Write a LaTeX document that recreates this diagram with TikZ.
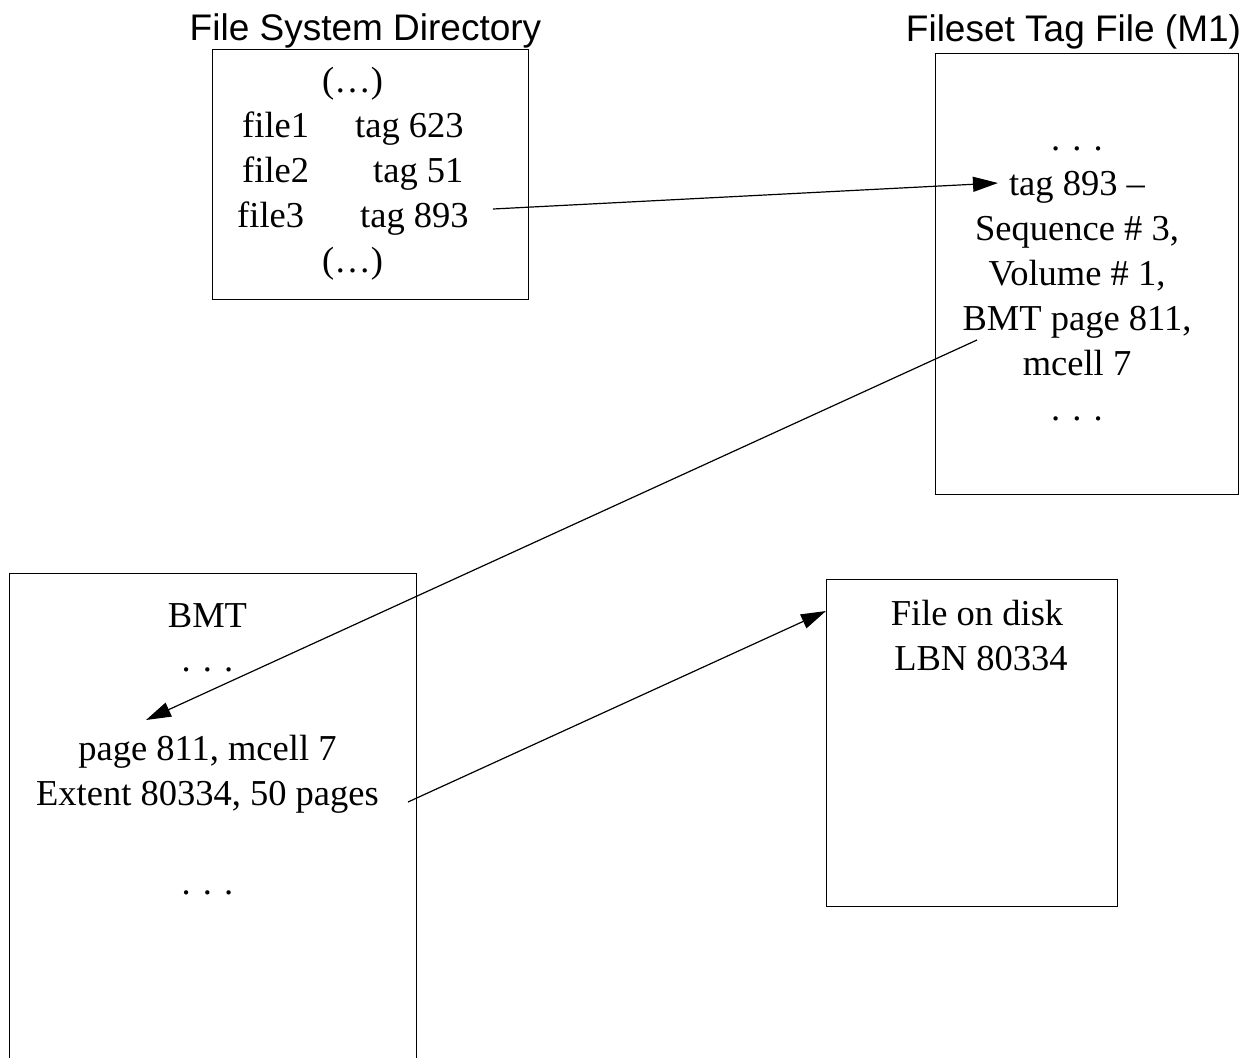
\documentclass[tikz,border=0pt]{standalone}
\usepackage{fontspec}
\setmainfont{Liberation Serif}
\newfontfamily\titlefont{Liberation Sans}
\usetikzlibrary{arrows.meta}
\begin{document}
\begin{tikzpicture}[x=1pt,y=-1pt,
  panel/.style={draw,line width=1.3pt,inner sep=0,anchor=north west},
  txt/.style={font=\fontsize{36.5}{45}\selectfont,inner sep=0,anchor=base},
  txtl/.style={txt,anchor=base west},
  ttl/.style={font=\titlefont\fontsize{37}{44}\selectfont,inner sep=0,anchor=base},
  link/.style={line width=1.2pt,-{Triangle[length=25pt,width=15pt]}}]
\clip (0,0) rectangle (1251,1058);
\fill[white] (0,0) rectangle (1251,1058);

% panels
\node[panel,minimum width=316pt,minimum height=250pt] (fsd) at (211.5,48.5) {};
\node[panel,minimum width=302.5pt,minimum height=441pt] (tagf) at (935,53) {};
\node[panel,minimum width=407pt,minimum height=540pt] (bmt) at (8.5,573) {};
\node[panel,minimum width=291pt,minimum height=327pt] (disk) at (826,579) {};

% titles
\node[ttl] (fsdtitle) at (365.5,40) {File System Directory};
\node[ttl] (tagtitle) at (1073.5,41) {Fileset Tag File (M1)};

% directory entries
\node[txt] (d0) at (352.5,92) {(…)};
\node[txtl] (f1) at (242,137) {file1};
\node[txtl] (t1) at (355,137) {tag 623};
\node[txtl] (f2) at (242,182) {file2};
\node[txtl] (t2) at (373,182) {tag 51};
\node[txtl] (f3) at (237,227) {file3};
\node[txtl] (t3) at (360,227) {tag 893};
\node[txt] (d1) at (352.5,272) {(…)};

% tag file entries
\node[txt] (g0) at (1077,150) {. . .};
\node[txt] (g1) at (1077,195) {tag 893 –};
\node[txt] (g2) at (1077,240) {Sequence \# 3,};
\node[txt] (g3) at (1077,285) {Volume \# 1,};
\node[txt] (g4) at (1077,330) {BMT page 811,};
\node[txt] (g5) at (1077,375) {mcell 7};
\node[txt] (g6) at (1077,420) {. . .};

% BMT entries
\node[txt] (b0) at (207.5,627) {BMT};
\node[txt] (b1) at (207.5,671) {. . .};
\node[txt] (b2) at (207.5,760) {page 811, mcell 7};
\node[txt] (b3) at (207.5,805) {Extent 80334, 50 pages};
\node[txt] (b4) at (207.5,894) {. . .};

% disk
\node[txt] (k0) at (977,625) {File on disk};
\node[txt] (k1) at (981,670) {LBN 80334};

% connector ends
\coordinate (p1) at (493,209);
\coordinate (q1) at (998,183);
\coordinate (p2) at (977,340);
\coordinate (q2) at (146,720);
\coordinate (p3) at (408,802);
\coordinate (q3) at (826,611);

\draw[link] (p1) -- (q1);
\draw[link] (p2) -- (q2);
\draw[link] (p3) -- (q3);
\end{tikzpicture}
\end{document}
